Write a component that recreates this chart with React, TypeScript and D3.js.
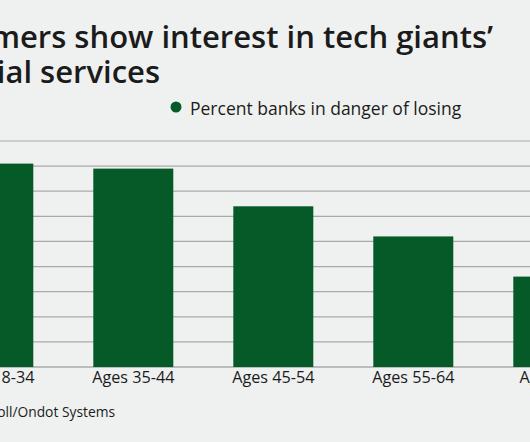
import React from "react";
import * as d3 from "d3";

const categories = ["Ages 18-34", "Ages 35-44", "Ages 45-54", "Ages 55-64", "Ages 65+"];
const values = [40.5, 39.5, 32, 26, 18];
const yTicks = [0, 5, 10, 15, 20, 25, 30, 35, 40, 45];
const titleLines = ["Consumers show interest in tech giants\u2019", "financial services"];
const legendLabel = "Percent banks in danger of losing";
const sourceText = "Source: Harris Poll/Ondot Systems";

const W = 530;
const H = 442;
const BG = "#eff1f0";
const GREEN = "#055a27";
const TEXT = "#1b1b1b";
const FONT = "'Open Sans', Lato, sans-serif";

export default function App() {
  const x = d3
    .scaleBand<string>()
    .domain(categories)
    .range([-76.7, 623.3])
    .paddingInner(0.4286)
    .paddingOuter(0.2143);
  const y = d3.scaleLinear().domain([0, 45]).range([367, 141]);

  return (
    <div style={{ position: "absolute", left: 0, top: 0 }}>
      <svg width={W} height={H} style={{ display: "block" }}>
        <rect x={0} y={0} width={W} height={H} fill={BG} />
        <text
          x={493}
          y={48}
          textAnchor="end"
          fontFamily={FONT}
          fontWeight={600}
          fontSize={31}
          fill={TEXT}
        >
          {titleLines[0]}
        </text>
        <text
          x={160}
          y={83}
          textAnchor="end"
          fontFamily={FONT}
          fontWeight={600}
          fontSize={31}
          fill={TEXT}
        >
          {titleLines[1]}
        </text>
        <circle cx={176} cy={107} r={5.5} fill={GREEN} />
        <text x={190} y={114.5} fontFamily={FONT} fontSize={17.5} fill={TEXT}>
          {legendLabel}
        </text>
        {yTicks.map((t) => (
          <line
            key={t}
            x1={0}
            x2={W}
            y1={y(t)}
            y2={y(t)}
            stroke="#a9abaa"
            strokeWidth={t === 0 ? 1.5 : 1.2}
          />
        ))}
        {categories.map((c, i) => (
          <rect
            key={c}
            x={x(c)}
            y={y(values[i])}
            width={x.bandwidth()}
            height={y(0) - y(values[i])}
            fill={GREEN}
          />
        ))}
        {categories.map((c) => (
          <text
            key={c}
            x={(x(c) as number) + x.bandwidth() / 2}
            y={383}
            textAnchor="middle"
            fontFamily={FONT}
            fontSize={16.2}
            fill={TEXT}
          >
            {c}
          </text>
        ))}
        <text x={115} y={417} textAnchor="end" fontFamily={FONT} fontSize={13.8} fill={TEXT}>
          {sourceText}
        </text>
      </svg>
    </div>
  );
}
